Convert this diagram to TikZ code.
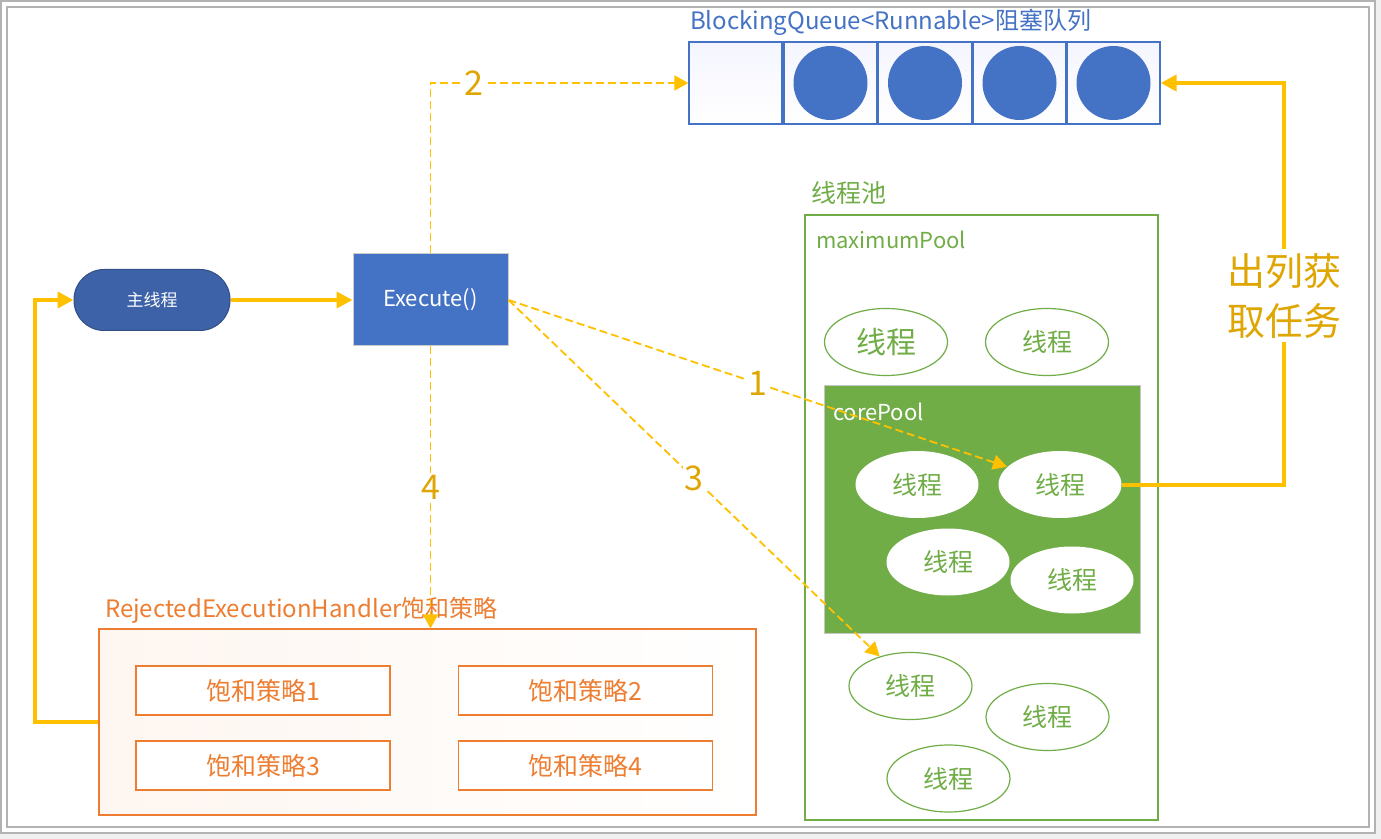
\documentclass[tikz,border=0pt]{standalone}
\usepackage{fontspec}
\setmainfont{Noto Sans CJK SC}
\usetikzlibrary{shapes.geometric,arrows.meta}
\definecolor{qblue}{HTML}{4472C4}
\definecolor{mainblue}{HTML}{3D62A8}
\definecolor{poolgreen}{HTML}{70AD47}
\definecolor{rejorange}{HTML}{ED7D31}
\definecolor{flowyellow}{HTML}{FFC000}
\definecolor{labelgold}{HTML}{DFA500}
\newcommand{\setfs}[1]{\fontsize{#1}{#1}\selectfont}

\begin{document}
\begin{tikzpicture}[x=0.5pt,y=-0.5pt]
    \tikzstyle{cell}=[draw=qblue, line width=0.6pt, top color=blue!4, bottom color=white, minimum width=46.5pt, minimum height=41pt, inner sep=0pt]
    \tikzstyle{ball}=[circle, fill=qblue, minimum size=37pt, inner sep=0pt]
    \tikzstyle{thread}=[ellipse, draw=poolgreen, line width=0.6pt, fill=white, minimum width=61.5pt, minimum height=33.5pt, inner sep=0pt, text=poolgreen, font=\setfs{12.5}]
    \tikzstyle{policy}=[draw=rejorange, line width=0.6pt, fill=white, minimum width=127pt, minimum height=24.5pt, text=rejorange, font=\setfs{12.5}]
    \tikzstyle{flow}=[flowyellow, line width=2pt, -{Triangle[length=8pt,width=8pt]}]
    \tikzstyle{dashflow}=[flowyellow, line width=0.9pt, dash pattern=on 4pt off 2pt, -{Triangle[length=7pt,width=7.5pt]}]
    \tikzstyle{num}=[fill=white, inner sep=1pt, text=labelgold, font=\setfs{17}]

    % frame
    \useasboundingbox (0,0) rectangle (1381,839);
    \fill[gray!12] (0,0) rectangle (1381,839);
    \fill[white] (0,0) rectangle (1375,833);
    \draw[gray!60, line width=1pt] (1,1) rectangle (1375,833);
    \draw[gray!60, line width=1pt] (7,7) rectangle (1369,827);

    % queue
    \node[anchor=west, text=qblue, font=\setfs{12}] (qtitle) at (683,22) {BlockingQueue<Runnable>阻塞队列};
    \foreach \i/\x in {1/735.5,2/830.5,3/925,4/1019.5,5/1113.5}
        \node[cell] (q\i) at (\x,83) {};
    \foreach \i in {2,...,5}
        \node[ball] (c\i) at (q\i) {};

    % main thread and execute
    \node[rectangle, rounded corners=15pt, fill=mainblue, draw=mainblue!80!black, line width=0.5pt, minimum width=78pt, minimum height=30.5pt, text=white, font=\setfs{8.5}] (main) at (152,300) {主线程};
    \node[rectangle, fill=qblue, draw=gray!40, line width=0.5pt, minimum width=77.5pt, minimum height=46pt, text=white, font=\setfs{11}] (exec) at (430.5,300) {Execute()};

    % thread pool
    \node[anchor=west, text=poolgreen, font=\setfs{12.5}] (pooltitle) at (804,193) {线程池};
    \node[draw=poolgreen, line width=0.6pt, minimum width=176.5pt, minimum height=302.5pt] (pool) at (981.5,517.5) {};
    \node[anchor=west, text=poolgreen, font=\setfs{11}] (maxlabel) at (809,240) {maximumPool};
    \node[fill=poolgreen, draw=gray!45, line width=0.5pt, minimum width=158pt, minimum height=123.5pt] (core) at (982,509.5) {};
    \node[anchor=west, text=white, font=\setfs{11}] (corelabel) at (826,412) {corePool};

    \node[thread, font=\setfs{15}] (t1) at (886,342) {线程};
    \node[thread] (t2) at (1047,342) {线程};
    \node[thread, draw=none] (t3) at (917,484.5) {线程};
    \node[thread, draw=none] (t4) at (1060,484.5) {线程};
    \node[thread, draw=none] (t5) at (948,562) {线程};
    \node[thread, draw=none] (t6) at (1072,580) {线程};
    \node[thread] (t7) at (910.5,686) {线程};
    \node[thread] (t8) at (1047.5,717) {线程};
    \node[thread] (t9) at (948.5,778.5) {线程};

    % rejected handler
    \node[anchor=west, text=rejorange, font=\setfs{12}] (rejtitle) at (98,610) {RejectedExecutionHandler饱和策略};
    \node[draw=rejorange, line width=0.6pt, left color=rejorange!7, right color=white, minimum width=328.5pt, minimum height=93pt] (rej) at (427.5,722) {};
    \node[policy] (p1) at (263,690.5) {饱和策略1};
    \node[policy] (p2) at (585.5,690.5) {饱和策略2};
    \node[policy] (p3) at (263,765.5) {饱和策略3};
    \node[policy] (p4) at (585.5,765.5) {饱和策略4};

    % connectors
    \draw[flow] (main) -- (exec);
    \draw[flow] (rej.west) -- ++(-63,0) |- (main.west);
    \draw[flow] (t4.east) -- ++(162,0) |- node[pos=0.235, fill=white, inner sep=2pt, align=center, text=labelgold, font={\fontsize{19}{25}\selectfont}] (deq) {出列获\\取任务} (q5.east);

    \draw[dashflow] (exec.north) |- node[num, pos=0.585] (n2) {2} (q1.west);
    \draw[dashflow] (exec.east) -- node[num, pos=0.5] (n1) {1} (t4);
    \draw[dashflow] (exec.east) -- node[num, pos=0.5] (n3) {3} (t7);
    \draw[dashflow] (exec.south) -- node[num, pos=0.5] (n4) {4} (rej.north -| exec.south);
\end{tikzpicture}
\end{document}
